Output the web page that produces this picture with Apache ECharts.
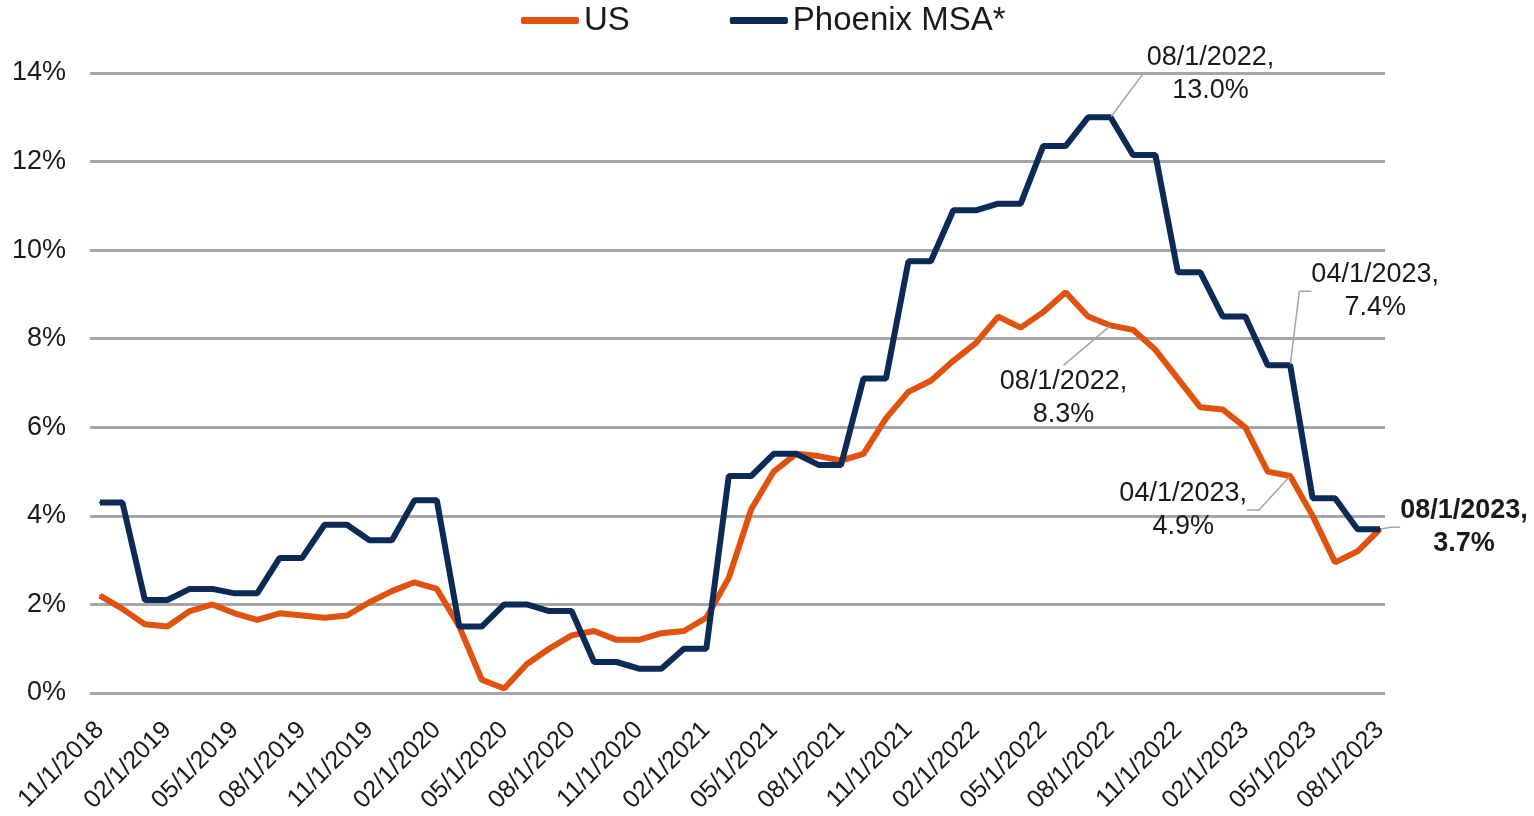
<!DOCTYPE html>
<html>
<head>
<meta charset="utf-8">
<script src="https://cdn.jsdelivr.net/npm/echarts@6/dist/echarts.min.js"></script>
<style>
  html, body { margin: 0; padding: 0; background: #ffffff; }
  #chart { width: 1534px; height: 816px; }
</style>
</head>
<body>
<div id="chart"></div>
<script>
const categories = [
  '11/1/2018','12/1/2018',
  '01/1/2019','02/1/2019','03/1/2019','04/1/2019','05/1/2019','06/1/2019','07/1/2019','08/1/2019','09/1/2019','10/1/2019','11/1/2019','12/1/2019',
  '01/1/2020','02/1/2020','03/1/2020','04/1/2020','05/1/2020','06/1/2020','07/1/2020','08/1/2020','09/1/2020','10/1/2020','11/1/2020','12/1/2020',
  '01/1/2021','02/1/2021','03/1/2021','04/1/2021','05/1/2021','06/1/2021','07/1/2021','08/1/2021','09/1/2021','10/1/2021','11/1/2021','12/1/2021',
  '01/1/2022','02/1/2022','03/1/2022','04/1/2022','05/1/2022','06/1/2022','07/1/2022','08/1/2022','09/1/2022','10/1/2022','11/1/2022','12/1/2022',
  '01/1/2023','02/1/2023','03/1/2023','04/1/2023','05/1/2023','06/1/2023','07/1/2023','08/1/2023'
];

const usValues = [
  2.2, 1.9,
  1.55, 1.5, 1.85, 2.0, 1.8, 1.65, 1.8, 1.75, 1.7, 1.75, 2.05, 2.3,
  2.5, 2.35, 1.5, 0.3, 0.1, 0.65, 1.0, 1.3, 1.4, 1.2, 1.2, 1.35,
  1.4, 1.7, 2.6, 4.15, 5.0, 5.4, 5.35, 5.25, 5.4, 6.2, 6.8, 7.05,
  7.5, 7.9, 8.5, 8.25, 8.6, 9.05, 8.5, 8.3, 8.2, 7.75, 7.1, 6.45,
  6.4, 6.0, 5.0, 4.9, 4.0, 2.95, 3.2, 3.7
];

const phoenixValues = [
  4.3, 4.3,
  2.1, 2.1, 2.35, 2.35, 2.25, 2.25, 3.05, 3.05, 3.8, 3.8, 3.45, 3.45,
  4.35, 4.35, 1.5, 1.5, 2.0, 2.0, 1.85, 1.85, 0.7, 0.7, 0.55, 0.55,
  1.0, 1.0, 4.9, 4.9, 5.4, 5.4, 5.15, 5.15, 7.1, 7.1, 9.75, 9.75,
  10.9, 10.9, 11.05, 11.05, 12.35, 12.35, 13.0, 13.0, 12.15, 12.15, 9.5, 9.5,
  8.5, 8.5, 7.4, 7.4, 4.4, 4.4, 3.7, 3.7
];

const yTicks = [0, 2, 4, 6, 8, 10, 12, 14];

// indices of annotated points
const usAnnotated = [45, 53];
const phoenixAnnotated = [45, 53, 57];

// label placement (style, not data)
const usOffsets = { 45: [-47, 73], 53: [-107, 34] };
const phoenixOffsets = { 45: [100, -43], 53: [85, -74], 57: [84, -2] };
const usLeaderLen = { 45: 0, 53: 12 };
const phoenixLeaderLen = { 45: 4, 53: 12, 57: 10 };

const US_COLOR = '#E1520F';
const PHX_COLOR = '#0B2A55';
const TEXT_COLOR = '#1A1A1A';
const FONT = '"Liberation Sans", Arial, sans-serif';

function buildData(values, annotated, boldIdx, leaderLen) {
  return values.map((v, i) => {
    if (annotated.indexOf(i) < 0) return v;
    return {
      value: v,
      label: {
        show: true,
        fontWeight: i === boldIdx ? 'bold' : 'normal'
      },
      labelLine: { show: true, length2: leaderLen[i] }
    };
  });
}

const labelCommon = {
  show: false,
  position: 'inside',
  fontFamily: FONT,
  fontSize: 27,
  lineHeight: 33,
  color: TEXT_COLOR,
  align: 'center',
  formatter: function (p) {
    return categories[p.dataIndex] + ',\n' + Number(p.value).toFixed(1) + '%';
  }
};

const labelLineCommon = {
  show: false,
  length2: 12,
  lineStyle: { color: '#A6A6A6', width: 1.5 }
};

const chart = echarts.init(document.getElementById('chart'), null, { renderer: 'canvas' });

chart.setOption({
  animation: false,
  backgroundColor: '#ffffff',
  textStyle: { fontFamily: FONT },
  legend: {
    data: ['US', 'Phoenix MSA*'],
    top: 4,
    left: 521,
    padding: 0,
    icon: 'roundRect',
    itemWidth: 58,
    itemHeight: 7,
    itemGap: 100,
    itemStyle: { opacity: 1 },
    textStyle: { fontFamily: FONT, fontSize: 33, color: TEXT_COLOR }
  },
  grid: [
    { left: 90, right: 149, top: 73, bottom: 123, outerBoundsMode: 'none', containLabel: false },
    { left: 100, right: 154, top: 73, bottom: 123, outerBoundsMode: 'none', containLabel: false }
  ],
  xAxis: [
    { gridIndex: 0, type: 'value', min: 0, max: 1, show: false },
    {
      gridIndex: 1,
      type: 'category',
      data: categories,
      boundaryGap: false,
      axisLine: { show: false },
      axisTick: { show: false },
      axisLabel: {
        interval: 2,
        rotate: 45,
        margin: 33,
        fontFamily: FONT,
        fontSize: 25,
        color: TEXT_COLOR
      }
    }
  ],
  yAxis: [
    {
      gridIndex: 0,
      type: 'value',
      min: yTicks[0],
      max: yTicks[yTicks.length - 1],
      interval: 2,
      axisLine: { show: false },
      axisTick: { show: false },
      splitLine: { show: true, lineStyle: { color: '#A6A6A6', width: 3 } },
      axisLabel: {
        margin: 24,
        fontFamily: FONT,
        fontSize: 27,
        color: TEXT_COLOR,
        formatter: '{value}%'
      }
    },
    {
      gridIndex: 1,
      type: 'value',
      min: yTicks[0],
      max: yTicks[yTicks.length - 1],
      show: false,
      splitLine: { show: false }
    }
  ],
  series: [
    {
      name: 'US',
      type: 'line',
      xAxisIndex: 1,
      yAxisIndex: 1,
      data: buildData(usValues, usAnnotated, -1, usLeaderLen),
      color: US_COLOR,
      lineStyle: { color: US_COLOR, width: 6 },
      showSymbol: true,
      showAllSymbol: true,
      symbol: 'circle',
      symbolSize: 2,
      itemStyle: { color: US_COLOR },
      label: labelCommon,
      labelLine: labelLineCommon,
      labelLayout: function (p) {
        const o = usOffsets[p.dataIndex];
        return o ? { dx: o[0], dy: o[1] } : {};
      },
      emphasis: { disabled: true },
      z: 2
    },
    {
      name: 'Phoenix MSA*',
      type: 'line',
      xAxisIndex: 1,
      yAxisIndex: 1,
      data: buildData(phoenixValues, phoenixAnnotated, 57, phoenixLeaderLen),
      color: PHX_COLOR,
      lineStyle: { color: PHX_COLOR, width: 6 },
      showSymbol: true,
      showAllSymbol: true,
      symbol: 'circle',
      symbolSize: 2,
      itemStyle: { color: PHX_COLOR },
      label: labelCommon,
      labelLine: labelLineCommon,
      labelLayout: function (p) {
        const o = phoenixOffsets[p.dataIndex];
        return o ? { dx: o[0], dy: o[1] } : {};
      },
      emphasis: { disabled: true },
      z: 3
    }
  ]
});
</script>
</body>
</html>
